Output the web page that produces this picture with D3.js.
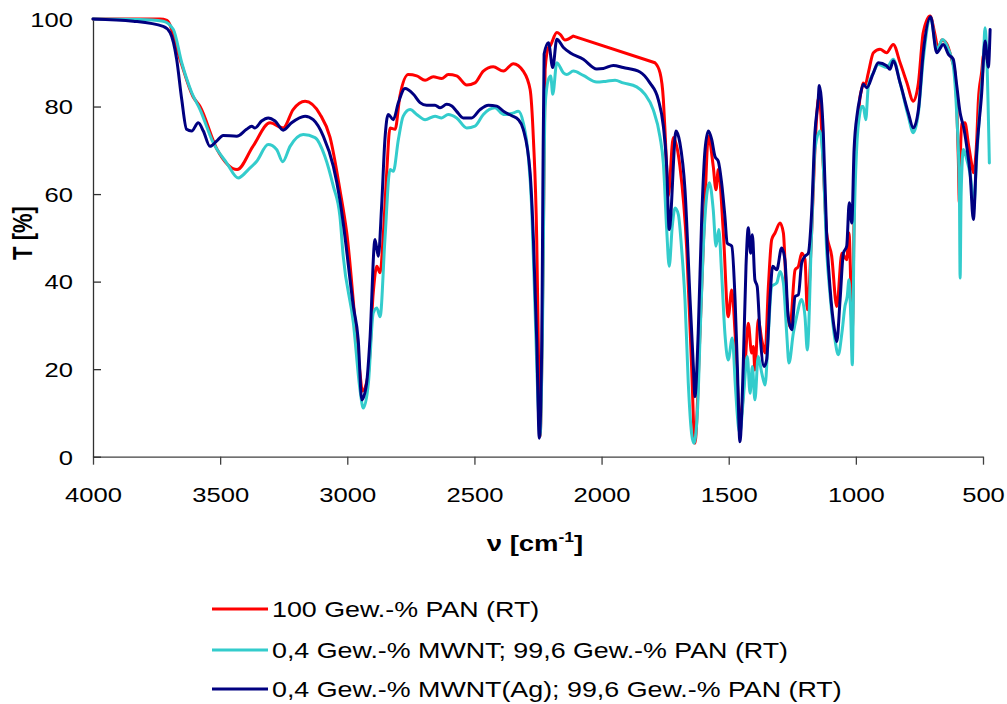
<!DOCTYPE html>
<html>
<head>
<meta charset="utf-8">
<script src="https://cdn.jsdelivr.net/npm/d3@7"></script>
<style>
  body { margin: 0; background: #fff; }
  svg { display: block; }
  text { font-family: "Liberation Sans", Arial, sans-serif; fill: #000; }
</style>
</head>
<body>
<svg id="chart" width="1007" height="704"></svg>
<script>
// IR transmission spectra: [wavenumber (cm^-1), transmittance (%)]
const pan100 = [[4000,100],[3842,100],[3737,100],[3709,99.7],[3658,90.8],[3607,82.3],[3579,80],[3512,70.2],[3433,65.6],[3371,70.9],[3304,76.3],[3252,75.1],[3213,79.3],[3166,81.2],[3107,78.2],[3068,73],[3029,61],[3002,51.1],[2950,19.1],[2941,15],[2917,19.1],[2898,37.4],[2884,43.5],[2871,42],[2858,51],[2845,64.9],[2832,75.1],[2812,74.8],[2793,82.4],[2760,87.3],[2727,87],[2694,86],[2662,86.8],[2629,86.4],[2603,87.3],[2570,87],[2530,84.9],[2498,85.4],[2465,88.1],[2426,89.1],[2386,88.1],[2347,89.8],[2308,88.1],[2281,83.9],[2268,72.5],[2255,49.6],[2249,26.7],[2242,4.6],[2229,49.6],[2222,88.5],[2209,93.5],[2203,93.8],[2176,96.9],[2163,96.5],[2144,95.2],[2111,96.1],[1790,90],[1770,87.7],[1757,81.6],[1751,75],[1744,66],[1738,59.5],[1718,72.9],[1692,66.4],[1665,47.3],[1646,20.6],[1633,3.1],[1613,28.2],[1593,58.7],[1580,73.2],[1561,66.4],[1550,61],[1541,65.6],[1521,51.1],[1502,32],[1488,38.1],[1475,28.2],[1462,13],[1453,8.4],[1436,20.6],[1423,30.5],[1410,23.7],[1403,25.2],[1397,19.8],[1384,31.3],[1370,26.7],[1357,23.7],[1344,38.9],[1331,49.6],[1318,51.1],[1298,53.4],[1285,51.1],[1272,35.9],[1259,29.7],[1239,42.7],[1226,43.5],[1213,46.5],[1200,45],[1191,33.6],[1174,51.1],[1161,70.2],[1148,81.6],[1144,82],[1128,66.4],[1115,51.1],[1095,45.8],[1075,34.3],[1055,46.5],[1036,45],[1027,51.1],[1014,29],[1003,70.2],[990,78],[984,82],[977,84],[971,85.4],[964,84.8],[951,87.7],[931,92.3],[905,93.1],[879,92.3],[853,94.2],[826,90],[799,85.4],[774,81.2],[754,85.4],[735,96.9],[708,100.7],[689,96.5],[676,93.1],[662,95.2],[643,94.4],[623,90.8],[610,87.7],[603,80],[597,68],[593,58],[590,66],[584,76],[571,76.3],[558,71.7],[545,67],[538,64.9],[525,72],[518,81.6],[505,88],[499,91.5],[492,92.3],[486,91]];

const mwnt = [[4000,100],[3815,99.9],[3724,99.5],[3684,97.6],[3651,90],[3612,83.2],[3579,79.3],[3527,71.7],[3474,67.1],[3429,63.7],[3389,65.6],[3356,67.5],[3311,71.3],[3278,70.2],[3254,67.4],[3225,70.9],[3173,73.6],[3127,72.9],[3088,68.6],[3055,61.8],[3029,54.9],[3016,45.8],[2976,30.5],[2950,15.3],[2937,11.1],[2917,16.8],[2898,32.8],[2884,34],[2871,32],[2852,49.6],[2832,65.6],[2819,65.2],[2799,72.5],[2780,77.8],[2753,79.3],[2727,78.2],[2694,77],[2655,77.8],[2629,77.4],[2603,78.2],[2570,77.4],[2530,75.1],[2498,75.5],[2465,78.2],[2419,79.7],[2386,78.2],[2353,78.4],[2327,78.9],[2308,76.3],[2288,68.6],[2275,57.2],[2262,34.3],[2249,11.4],[2242,4.6],[2233,26.7],[2222,80.1],[2209,86.2],[2200,87],[2192,82.8],[2176,90],[2150,87.7],[2137,87.3],[2111,88.1],[2072,87.1],[2019,85.6],[1980,85.8],[1947,86],[1915,85.4],[1862,84.5],[1829,82.8],[1797,79.3],[1770,73],[1757,67],[1744,52],[1734,43.5],[1722,52.6],[1711,56.8],[1698,55.3],[1685,47.3],[1672,35.9],[1659,16.8],[1646,5.3],[1637,3.1],[1624,9.2],[1610,32],[1597,51.1],[1576,62.6],[1561,56.5],[1550,48.1],[1539,51.9],[1528,42],[1515,28.2],[1502,22.1],[1486,27.1],[1473,15.3],[1462,6.9],[1456,5.3],[1443,13],[1427,22.9],[1416,14.5],[1407,20.6],[1397,13],[1384,22.9],[1370,19.1],[1357,16.4],[1344,28.2],[1331,38.9],[1311,39.7],[1298,42.3],[1285,39.7],[1272,28.2],[1263,21.4],[1246,28.2],[1233,32],[1213,35.9],[1200,32],[1191,24.4],[1174,51.1],[1161,70.2],[1141,74.4],[1128,66.4],[1115,47.3],[1102,37.4],[1082,26.7],[1069,23.3],[1055,28.2],[1043,34.3],[1034,36.6],[1027,40.4],[1020,32],[1014,21],[1007,51.1],[997,70.2],[984,78.6],[977,80],[971,80],[961,77],[951,84.7],[931,87.7],[912,89.6],[879,88.9],[853,90.8],[826,85.4],[794,77.8],[774,74],[754,78.6],[735,90.8],[706,100.2],[682,93.1],[658,95.3],[636,93.1],[617,89.3],[603,77.8],[593,61.8],[590,40.8],[586,60],[577,70.2],[564,67.9],[545,61.8],[538,56],[525,68],[512,80],[499,90],[492,98],[486,93],[475,67.1]];

const mwntAg = [[4000,100],[3842,99.5],[3724,98.3],[3697,96.9],[3671,90.8],[3651,81.6],[3632,74.8],[3612,74.4],[3586,76.3],[3566,74.4],[3540,70.9],[3514,72.1],[3488,73.4],[3435,73.2],[3396,74.8],[3376,75.5],[3363,75.1],[3337,76.7],[3311,77.4],[3284,76.7],[3252,74.6],[3219,76.3],[3166,77.8],[3134,77],[3094,73.2],[3055,66.4],[3029,58.7],[3016,53.4],[2976,34.3],[2957,26.7],[2943,13],[2924,16.8],[2911,26.7],[2891,49.6],[2878,45.8],[2865,57.2],[2852,72.5],[2839,78.2],[2819,77],[2799,80.9],[2773,84.1],[2740,82.8],[2714,80.9],[2688,80.3],[2655,80.3],[2635,79.7],[2609,80.5],[2589,80.1],[2570,78.9],[2544,77.4],[2511,77.4],[2478,79.3],[2445,80.3],[2412,80.1],[2386,78.9],[2353,77.9],[2327,77],[2308,74.8],[2281,64.9],[2268,49.6],[2255,26.7],[2245,4.2],[2235,26.7],[2231,60],[2226,92],[2209,94.6],[2192,88.9],[2176,95.4],[2150,93.5],[2124,92.3],[2072,90.8],[2019,88.6],[1993,88.7],[1954,89.4],[1915,88.9],[1849,87.9],[1810,85.4],[1777,81.6],[1757,75.5],[1744,66.4],[1734,51.9],[1707,74.4],[1692,71.7],[1672,61],[1652,35.9],[1639,20.6],[1633,13.7],[1620,28.2],[1606,54.9],[1593,70.2],[1580,74.4],[1567,72.5],[1554,68.6],[1541,67.5],[1528,62.6],[1515,54.9],[1506,48.8],[1488,48.1],[1475,35.9],[1466,20.6],[1456,3.4],[1443,20.6],[1432,43.5],[1423,52.3],[1414,46.5],[1407,50.7],[1397,40.4],[1388,38.9],[1377,28.2],[1361,20.6],[1351,22.1],[1338,35.9],[1327,43.5],[1311,42.7],[1292,47.7],[1279,45],[1266,32],[1252,29],[1239,36.6],[1226,37],[1213,44.3],[1200,45.8],[1187,46.5],[1174,55.7],[1161,74],[1148,81.6],[1144,84.8],[1128,74],[1115,51.1],[1102,38.9],[1082,28.2],[1075,26.3],[1062,35.9],[1049,46.5],[1036,48.1],[1026,58],[1016,53.4],[1007,70.2],[994,78.6],[984,82],[971,85.1],[957,84.3],[931,87.7],[912,90],[879,89.3],[866,88.5],[853,90.4],[826,85.4],[794,78.6],[774,75.1],[754,79.3],[735,92.3],[706,100.5],[682,92.3],[656,94.2],[636,91.9],[617,90.8],[603,84.7],[590,78.6],[584,77],[577,75.5],[564,70.9],[551,64.9],[538,54.2],[525,69.4],[505,83.2],[492,95],[482,90],[479,89],[472,97.6]];

const seriesLabels = [
  "100 Gew.-% PAN (RT)",
  "0,4 Gew.-% MWNT; 99,6 Gew.-% PAN (RT)",
  "0,4 Gew.-% MWNT(Ag); 99,6 Gew.-% PAN (RT)"
];
const seriesColors = ["#ff0000", "#33cccc", "#000080"];
const xTicks = [4000, 3500, 3000, 2500, 2000, 1500, 1000, 500];
const yTicks = [0, 20, 40, 60, 80, 100];

const svg = d3.select("#chart");
const W = 1007, H = 704;
svg.append("rect").attr("width", W).attr("height", H).attr("fill", "#fff");

// Plot area
const x = d3.scaleLinear().domain([4000, 500]).range([93, 983]);
const y = d3.scaleLinear().domain([0, 100]).range([456.7, 19]);

const SX = 1.22; // horizontal stretch of the lettering

// x axis (ticks outside, pointing down)
const gx = svg.append("g").attr("transform", `translate(0,${y(0)})`)
  .call(d3.axisBottom(x).tickValues(xTicks).tickSize(8).tickSizeOuter(0).tickFormat(d3.format("d")));
gx.select(".domain").attr("stroke", "#404040").attr("stroke-width", 1.3);
gx.selectAll(".tick line").attr("stroke", "#404040").attr("stroke-width", 1.3);
gx.selectAll(".tick text")
  .attr("y", 30).attr("dy", "0.71em")
  .attr("font-size", 21)
  .attr("font-family", "Liberation Sans, Arial, sans-serif")
  .attr("transform", `scale(${SX},1)`);

// y axis (ticks inside, pointing right)
const gy = svg.append("g").attr("transform", `translate(${x(4000)},0)`)
  .call(d3.axisLeft(y).tickValues(yTicks).tickSize(-8).tickSizeOuter(0));
gy.select(".domain").attr("stroke", "#303030").attr("stroke-width", 1.3);
gy.selectAll(".tick line").attr("stroke", "#303030").attr("stroke-width", 1.3);
gy.selectAll(".tick text")
  .attr("x", -16.5).attr("dy", "0.35em")
  .attr("font-size", 21)
  .attr("font-family", "Liberation Sans, Arial, sans-serif")
  .attr("transform", `scale(${SX},1)`);

// Spectra: smooth runs; a gap in the recorded data is bridged by a straight segment
const smooth = d3.line()
  .x(d => x(d[0]))
  .y(d => y(d[1]))
  .curve(d3.curveMonotoneX);

function spectrumPath(data, maxGap) {
  const runs = [[data[0]]];
  for (let i = 1; i < data.length; i++) {
    if (Math.abs(data[i - 1][0] - data[i][0]) > maxGap) runs.push([data[i]]);
    else runs[runs.length - 1].push(data[i]);
  }
  return runs.map((r, k) => {
    const p = r.length > 1 ? smooth(r) : `M${x(r[0][0])},${y(r[0][1])}`;
    return k === 0 ? p : "L" + p.slice(1);
  }).join("");
}

[pan100, mwnt, mwntAg].forEach((data, i) => {
  svg.append("path")
    .attr("fill", "none")
    .attr("stroke", seriesColors[i])
    .attr("stroke-width", 3)
    .attr("stroke-linejoin", "round")
    .attr("stroke-linecap", "round")
    .attr("d", spectrumPath(data, 250));
});

// Axis titles
svg.append("text")
  .attr("transform", `translate(22,233) scale(1.25,1) rotate(-90)`)
  .attr("text-anchor", "middle")
  .attr("dominant-baseline", "central")
  .attr("font-size", 22)
  .attr("font-weight", "bold")
  .text("T [%]");

const xt = svg.append("text")
  .attr("transform", `translate(535,551) scale(1.25,1)`)
  .attr("text-anchor", "middle")
  .attr("font-size", 22)
  .attr("font-weight", "bold");
xt.append("tspan").text("\u03bd [cm");
xt.append("tspan").attr("font-size", 14).attr("dy", -9).text("-1");
xt.append("tspan").attr("dy", 9).text("]");

// Legend
const legendY = [609, 650, 689];
seriesLabels.forEach((label, i) => {
  svg.append("line")
    .attr("x1", 212).attr("x2", 268)
    .attr("y1", legendY[i]).attr("y2", legendY[i])
    .attr("stroke", seriesColors[i]).attr("stroke-width", 3);
  svg.append("text")
    .attr("transform", `translate(272,${legendY[i]}) scale(1.22,1)`)
    .attr("dy", "0.36em")
    .attr("font-size", 22)
    .text(label);
});
</script>
</body>
</html>
